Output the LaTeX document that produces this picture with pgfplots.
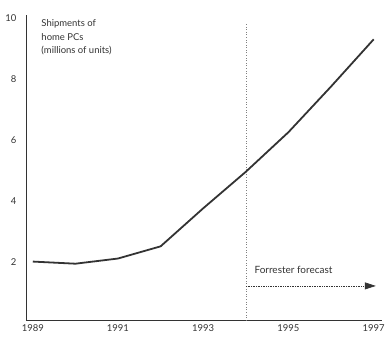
\documentclass[border=0pt]{standalone}
\usepackage{fontspec}
\setmainfont{Lato}
\usepackage{pgfplots}
\pgfplotsset{compat=1.18}
\usetikzlibrary{arrows.meta}
\definecolor{ink}{HTML}{333333}
\begin{document}
\begin{tikzpicture}[x=1pt,y=1pt]
\path (-26,-19) rectangle (362,321);
\begin{axis}[
  at={(0,0)}, anchor=origin,
  scale only axis, width=357pt, height=306pt,
  xmin=1988.84, xmax=1997.2,
  ymin=0.07, ymax=10.1,
  axis x line=bottom, axis y line=left,
  axis line style={-, ink, line width=0.8pt},
  xtick={1989,1991,1993,1995,1997},
  ytick={2,4,6,8,10},
  xtick style={draw=none},
  ytick style={draw=none},
  /pgf/number format/assume math mode=true,
  xticklabel style={/pgf/number format/1000 sep={}, font=\fontsize{9.5}{10}\selectfont, text=ink, yshift=1pt},
  yticklabel style={font=\fontsize{9.5}{10}\selectfont, text=ink, xshift=-4pt},
  clip=false,
]
% historical shipments and forecast
\addplot[ink, line width=1.8pt] coordinates {
  (1989,2.0) (1990,1.93) (1991,2.1) (1992,2.5) (1993,3.75) (1994,4.95)
  (1995,6.25) (1996,7.75) (1997,9.3)};
% start of the forecast period
\addplot[gray, dotted, line width=0.6pt] coordinates {(1994,0.07) (1994,9.8)};
\addplot[ink, densely dotted, line width=0.7pt, -{Triangle[length=11pt,width=7pt]}]
  coordinates {(1994,1.2) (1997.05,1.2)};
\node[anchor=south west, font=\fontsize{10}{11}\selectfont, text=ink, inner sep=0pt]
  at (axis cs:1994.2,1.6) {Forrester forecast};
\node[anchor=north west, align=left, font=\fontsize{9.5}{13.5}\selectfont, text=ink, inner sep=0pt]
  at (axis cs:1989.2,9.95) {Shipments of\\home PCs\\(millions of units)};
\end{axis}
\end{tikzpicture}
\end{document}
